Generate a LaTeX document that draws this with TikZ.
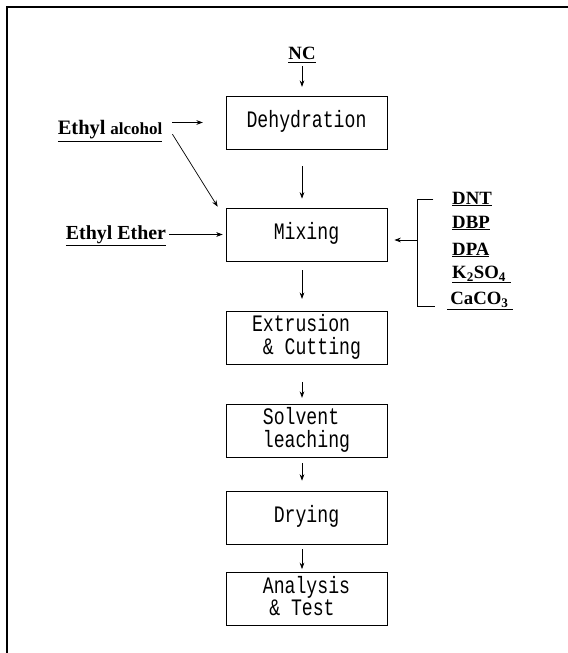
\documentclass[tikz,border=0pt]{standalone}
\usepackage{fontspec}
\usepackage{graphicx}
\setmainfont{Liberation Serif}
\newfontfamily\stagefont{Liberation Mono}
\usetikzlibrary{arrows.meta}
\newcommand{\tall}[2][c]{\scalebox{1}[1.3]{\begin{tabular}{@{}#1@{}}#2\end{tabular}}}
\tikzset{
    stage/.style ={rectangle, minimum width = 4.83cm, minimum height = 1.59cm, inner sep=0pt, draw=black, line width=0.6pt, font=\stagefont\fontsize{15.5}{14}\selectfont},
    feed/.style ={inner sep=0pt, font=\bfseries\fontsize{16}{18}\selectfont},
    flow/.style ={-{Stealth[length=5.5pt,width=4pt]}, line width=0.6pt}
}

\begin{document}
\begin{tikzpicture}[x=0.03cm,y=-0.03cm]
        \useasboundingbox (0,0) rectangle (568,653);
        \draw[line width=1pt] (7,653) -- (7,7) -- (568,7);
        % process stages
        \node[stage] (dehy) at (306.5,122.5) {\tall{Dehydration}};
        \node[stage] (mix) at (306.5,234.5) {\tall{Mixing}};
        \node[stage] (extr) at (306.5,337.5) {\tall[l]{Extrusion\\\ \& Cutting}};
        \node[stage] (solv) at (306.5,430.5) {\tall[l]{Solvent\\leaching}};
        \node[stage] (dry) at (306.5,517.5) {\tall{Drying}};
        \node[stage] (test) at (306.5,599) {\tall[l]{Analysis\\\hspace*{0.35em}\& Test}};
        % raw materials
        \node[feed, anchor=base] (nc) at (302,60) {\underline{NC}};
        \node[feed, anchor=base] (alc) at (110,135) {\underline{{\fontsize{17.5}{18}\selectfont Ethyl} {\fontsize{14.5}{16}\selectfont alcohol}}};
        \node[feed, anchor=base] (eth) at (116,239) {\underline{\fontsize{17}{18}\selectfont Ethyl Ether}};
        \node[feed, anchor=base west] (dnt) at (452,204) {\underline{DNT}};
        \node[feed, anchor=base west] (dbp) at (452,228) {\underline{DBP}};
        \node[feed, anchor=base west] (dpa) at (452,255) {\underline{DPA}};
        \node[feed, anchor=base west] (kso) at (452,278) {\underline{K\textsubscript{2}SO\textsubscript{4}\ }};
        \node[feed, anchor=base west] (cac) at (447,304) {\underline{\,CaCO\textsubscript{3}\ }};
        \coordinate (btop) at (417,199);
        \coordinate (bbot) at (417,306);
        \coordinate (bmid) at (417,240);
        \draw[line width=0.6pt] ([xshift=14pt]btop) -- (btop) -- (bbot) -- ([xshift=15pt]bbot);
        % connectors
        \draw[flow, shorten <=3pt, shorten >=7.5pt] (nc.south) -- (nc.south |- dehy.north);
        \draw[flow, shorten <=8.5pt, shorten >=19.5pt] (alc.east |- dehy.west) -- (dehy.west);
        \draw[flow] ([xshift=8.5pt,yshift=-2.5pt]alc.east) -- ([xshift=-6.8pt,yshift=0.8pt]mix.north west);
        \draw[flow, shorten <=2.5pt, shorten >=2.5pt] (eth.east |- mix.west) -- (mix.west);
        \draw[flow, shorten >=6pt] (bmid) -- (bmid -| mix.east);
        \draw[flow, shorten <=14.5pt, shorten >=7.7pt] (dehy.south -| nc) -- (mix.north -| nc);
        \draw[flow, shorten <=7.7pt, shorten >=10pt] (mix.south -| nc) -- (extr.north -| nc);
        \draw[flow, shorten <=15pt, shorten >=5pt] (extr.south -| nc) -- (solv.north -| nc);
        \draw[flow, shorten <=5pt, shorten >=8.5pt] (solv.south -| nc) -- (dry.north -| nc);
        \draw[flow, shorten <=4.3pt, shorten >=2.6pt] (dry.south -| nc) -- (test.north -| nc);
    \end{tikzpicture}
\end{document}
